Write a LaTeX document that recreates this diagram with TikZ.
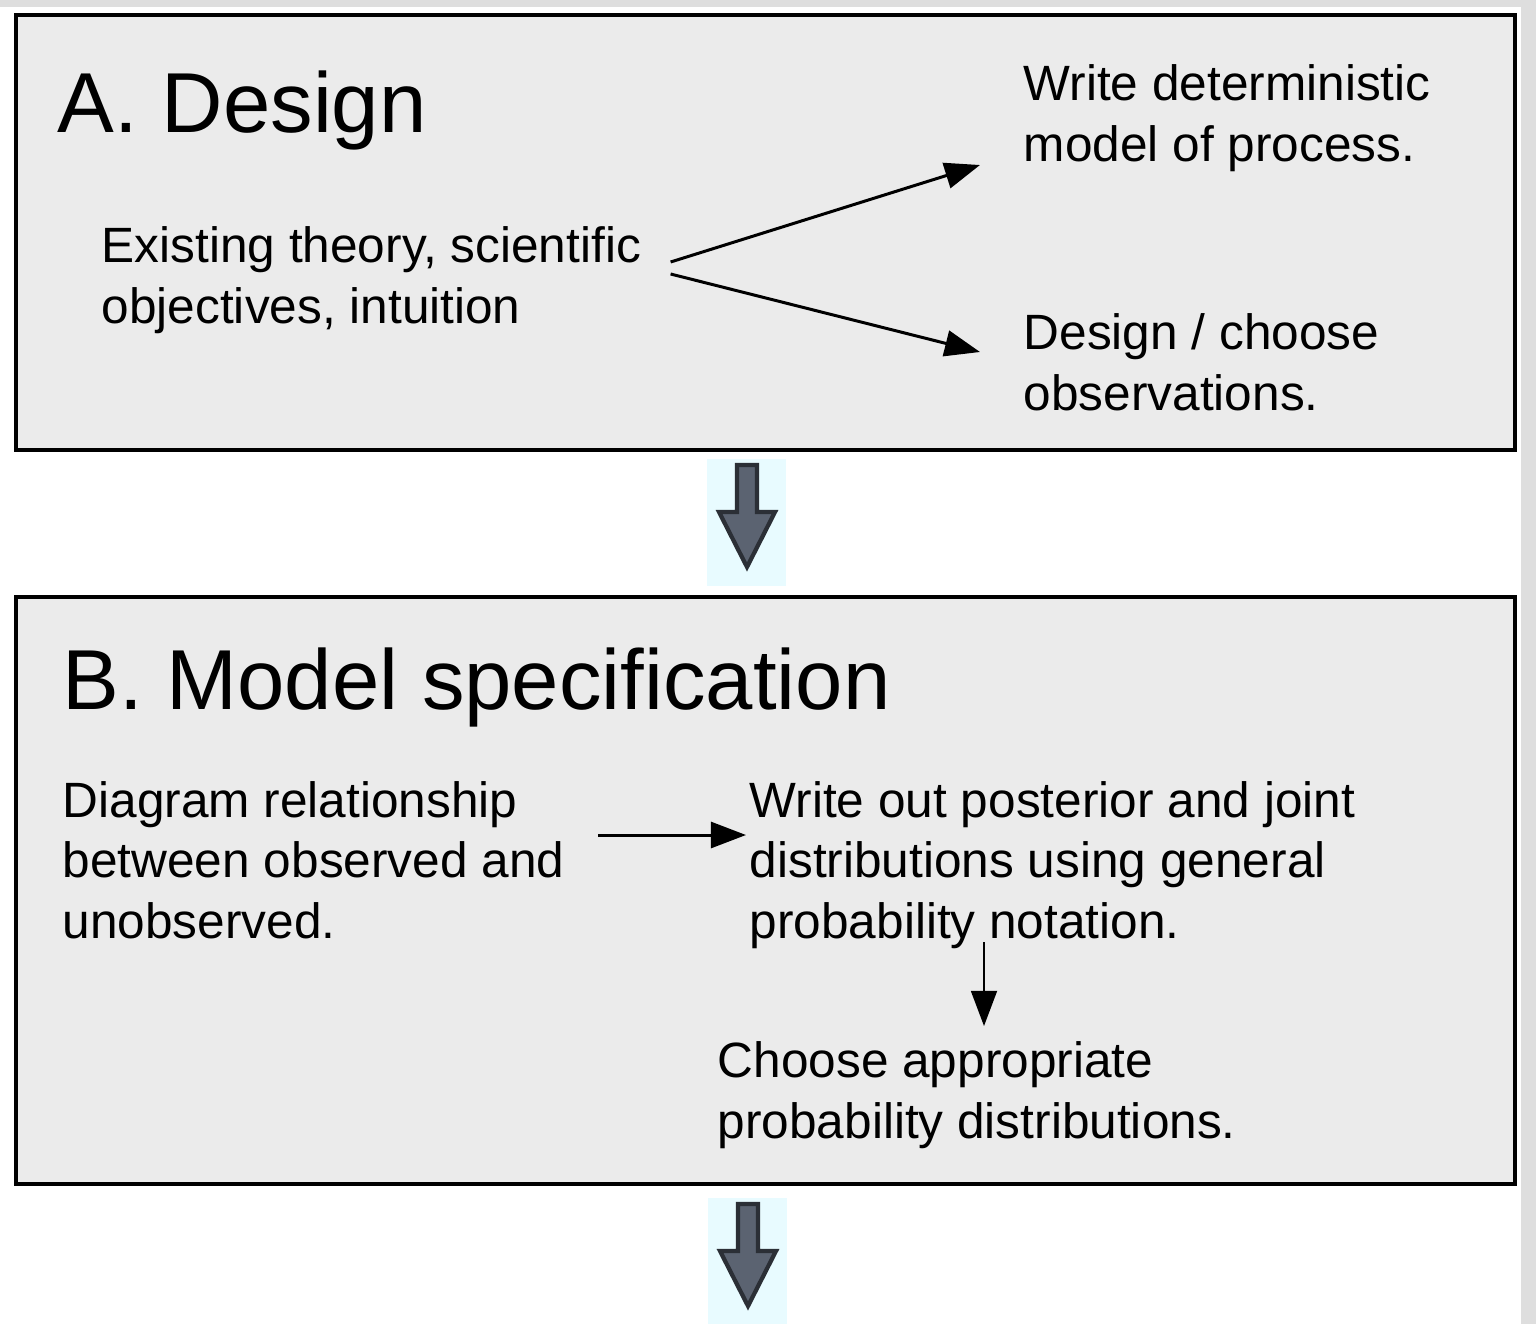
\documentclass[tikz,border=0pt]{standalone}
\usepackage{fontspec}
\setmainfont{Liberation Sans}
\usetikzlibrary{arrows.meta, calc}

\definecolor{panelgray}{HTML}{EBEBEB}
\definecolor{framegray}{HTML}{DEDEDE}
\definecolor{blockfill}{HTML}{5B6371}
\definecolor{blockline}{HTML}{2B2F36}
\definecolor{blockbg}{HTML}{E8FBFF}

\begin{document}
\begin{tikzpicture}[x=0.01cm, y=-0.01cm,
        panel/.style={draw=black, line width=1.1pt, fill=panelgray},
        title/.style={anchor=base west, inner sep=0pt, font=\fontsize{24.2}{29}\selectfont},
        txt/.style={anchor=base west, inner sep=0pt, align=left, font=\fontsize{14.1}{17.07}\selectfont},
        flow/.style={-{Triangle[length=10pt, width=7.4pt]}, line width=0.85pt},
        thinflow/.style={-{Triangle[length=10pt, width=7.4pt]}, line width=0.5pt}]
        % Okvir slike
        \useasboundingbox (0,0) rectangle (1536,1324);
        \fill[white] (0,0) rectangle (1536,1324);
        \fill[framegray] (0,0) rectangle (1536,7);
        \fill[framegray] (1521,0) rectangle (1536,1324);

        % Paneli
        \draw[panel] (16,15) rectangle (1515,450);
        \draw[panel] (16,597) rectangle (1515,1184);

        % Blok strelice izmedju panela
        \foreach \ax/\ay in {747/459, 748/1198} {
            \fill[blockbg] (\ax-40,\ay) rectangle (\ax+39,\ay+127);
            \draw[blockline, fill=blockfill, line width=1.2pt, line join=miter]
                (\ax-10,\ay+6) -- (\ax+10,\ay+6) -- (\ax+10,\ay+53) -- (\ax+28,\ay+53)
                -- (\ax,\ay+108) -- (\ax-28,\ay+53) -- (\ax-10,\ay+53) -- cycle;
        }

        % A. Design (base = zadnji redak)
        \node[title] (titleA) at (57,133) {A. Design};
        \node[txt] (exist) at (101,323) {Existing theory, scientific\\objectives, intuition};
        \node[txt] (detmodel) at (1023,161) {Write deterministic\\model of process.};
        \node[txt] (obs) at (1023,410) {Design / choose\\observations.};

        \draw[flow] ($(exist.base east)+(29,-61)$) -- ($(detmodel.base west)+(-43,4)$);
        \draw[flow] ($(exist.base east)+(29,-49)$) -- ($(obs.base west)+(-43,-58)$);

        % B. Model specification
        \node[title] (titleB) at (62,709) {B. Model specification};
        \node[txt] (diag) at (62,938) {Diagram relationship\\between observed and\\unobserved.};
        \node[txt] (post) at (749,938) {Write out posterior and joint\\distributions using general\\probability notation.};
        \node[txt] (dist) at (717,1138) {Choose appropriate\\probability distributions.};

        \draw[flow] ($(diag.base east)+(33,-103)$) -- ($(post.base west)+(-3,-103)$);
        \draw[thinflow] ($(post.base west)+(235,4)$) -- ($(dist.base west)+(267,-112)$);
\end{tikzpicture}
\end{document}
